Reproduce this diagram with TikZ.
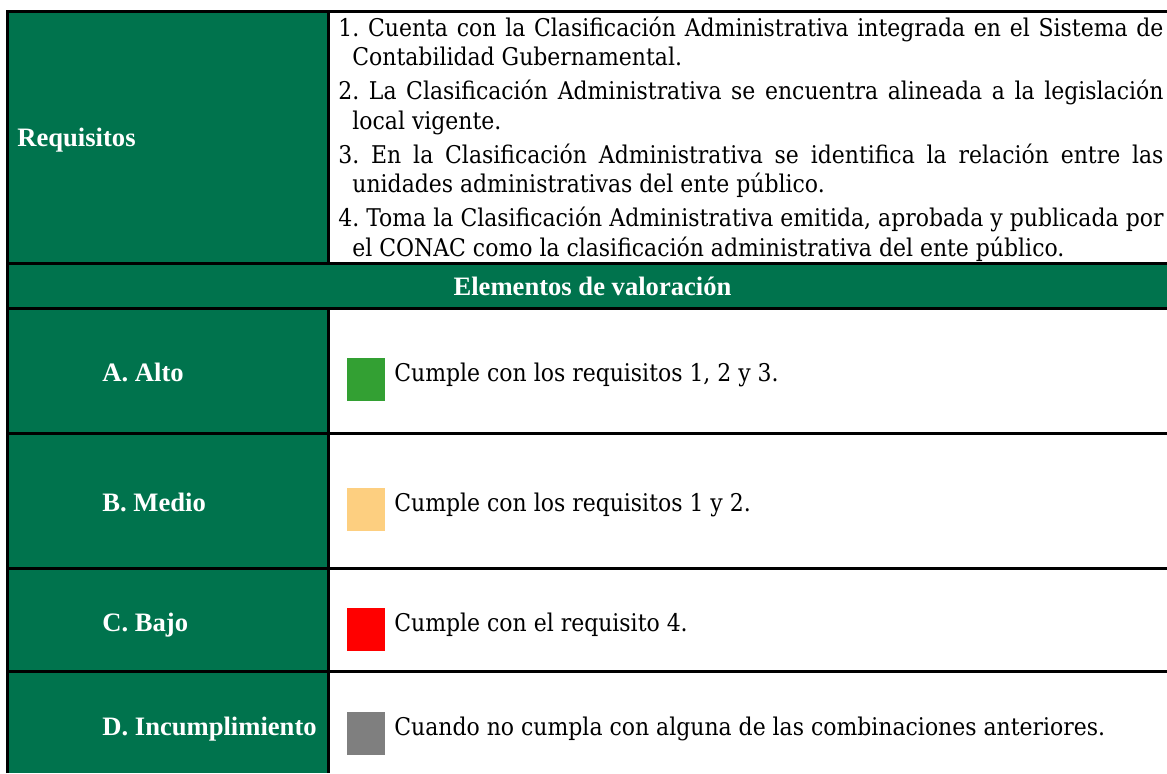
\documentclass[tikz,border=0pt]{standalone}
\usepackage{fontspec}
\setmainfont{Liberation Serif}
\newfontfamily\bodyfont{DejaVu Serif Condensed}
\usetikzlibrary{positioning}
\definecolor{tablegreen}{HTML}{00734D}
\definecolor{swatchA}{HTML}{33A033}
\definecolor{swatchB}{HTML}{FDCF80}
\definecolor{swatchC}{HTML}{FF0000}
\definecolor{swatchD}{HTML}{7F7F7F}
\newlength\reqw
\setlength\reqw{412.5pt}
\newcommand\reqline[1]{\makebox[\reqw][s]{#1}}

\begin{document}
\begin{tikzpicture}[
x=0.5pt, y=-0.5pt,
  rule/.style = {line width=1.5pt},% lines of the table
   lab/.style = {text=white, inner sep=0pt,% labels in green cells
                 font=\fontsize{13.3}{16}\selectfont\bfseries},
  body/.style = {inner sep=0pt, font=\bodyfont\fontsize{12.2}{14.75}\selectfont},
swatch/.style = {minimum width=19pt, minimum height=21.5pt,
                 inner sep=0pt, outer sep=0pt},
                        ]
\useasboundingbox (0,0) rectangle (1167,773);
% green cells
\fill[tablegreen] (7.5,11.5) rectangle (328.5,773);
\fill[tablegreen] (7.5,263.5) rectangle (1167,308);
% requisitos
\node[lab, anchor=base west] (req) at (17,146) {Requisitos};
\node[body, anchor=base west, text width=\reqw, align=left] (reqtext) at (338,36)
  {\spaceskip=0pt\xspaceskip=0pt\frenchspacing% natural spaces, justified lines
   \reqline{1. Cuenta con la Clasificación Administrativa integrada en el Sistema de}\\
   \hspace*{7pt}Contabilidad Gubernamental.\\[2.25pt]
   \reqline{2. La Clasificación Administrativa se encuentra alineada a la legislación}\\
   \hspace*{7pt}local vigente.\\[2.25pt]
   \reqline{3. En la Clasificación Administrativa se identifica la relación entre las}\\
   \hspace*{7pt}unidades administrativas del ente público.\\[2.25pt]
   \reqline{4. Toma la Clasificación Administrativa emitida, aprobada y publicada por}\\
   \hspace*{7pt}el CONAC como la clasificación administrativa del ente público.};
\node[lab, anchor=base] (elem) at (592.5,295) {Elementos de valoración};
% rows of the valoracion
\foreach \b/\n/\l/\c/\t in {381/A/A. Alto/swatchA/{Cumple con los requisitos 1, 2 y 3.},
                            511/B/B. Medio/swatchB/{Cumple con los requisitos 1 y 2.},
                            631/C/C. Bajo/swatchC/{Cumple con el requisito 4.},
                            735/D/D. Incumplimiento/swatchD/{Cuando no cumpla con alguna de las combinaciones anteriores.}}
{
  \node[lab, anchor=base west] (lab\n) at (102,\b) {\l};
  \node[swatch, fill=\c, anchor=north west] (sq\n) at (347,\b-23) {};
  \node[body, anchor=base west] (txt\n) at (394,\b) {\t};
}
% lines
\draw[rule] (7.5,773) -- (7.5,11.5) -- (1167,11.5);
\draw[rule] (328.5,11.5) -- (328.5,263.5);
\draw[rule] (328.5,308) -- (328.5,773);
\foreach \h in {263.5,308,433.5,568,671.5}
  \draw[rule] (7.5,\h) -- (1167,\h);
\end{tikzpicture}
\end{document}
